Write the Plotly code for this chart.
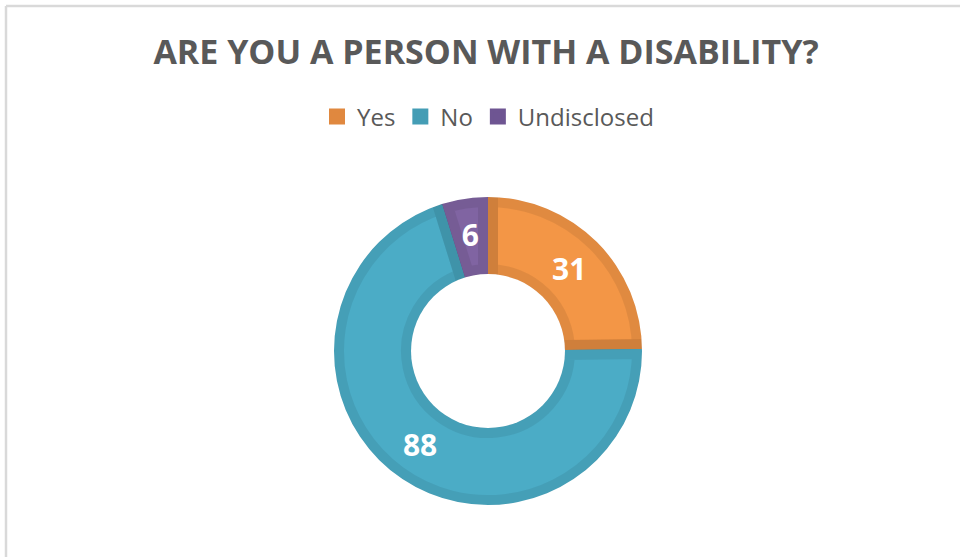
import plotly.graph_objects as go

# Survey answers
labels = ["Yes", "No", "Undisclosed"]
counts = [31, 88, 6]

fill_colors = ["#F39646", "#4BACC6", "#8064A2"]
edge_colors = ["#E0883F", "#449DB5", "#6E5592"]

W, H = 960, 557
CX, CY = 488, 351          # ring centre in page pixels (from top-left)
R_OUT, R_IN = 154, 77      # ring radii in pixels
EDGE = 20                  # stroke width; half of it falls inside each slice
SHADE = "rgba(0,0,0,0.075)"
R_SMALL_TEXT = 136         # text ring used to centre the narrow slice's label

label_font = dict(family="Open Sans", size=30, color="white", weight="bold")


def domain_for(radius):
    cy_up = H - CY
    return dict(
        x=[(CX - radius) / W, (CX + radius) / W],
        y=[(cy_up - radius) / H, (cy_up + radius) / H],
    )


total = sum(counts)
wide = [c / total > 0.1 for c in counts]

fig = go.Figure()

# Base ring in the darker tones; it also supplies the solid legend swatches
fig.add_trace(go.Pie(
    labels=labels,
    values=counts,
    sort=False,
    direction="clockwise",
    rotation=0,
    hole=R_IN / R_OUT,
    domain=domain_for(R_OUT),
    marker=dict(colors=edge_colors, line=dict(color=edge_colors, width=4)),
    textinfo="none",
    hoverinfo="skip",
    showlegend=True,
))

# Donut slices; a translucent dark stroke shades each slice's rim
fig.add_trace(go.Pie(
    labels=labels,
    values=counts,
    sort=False,
    direction="clockwise",
    rotation=0,
    hole=R_IN / R_OUT,
    domain=domain_for(R_OUT),
    marker=dict(colors=fill_colors, line=dict(color=SHADE, width=EDGE)),
    texttemplate=["%{value}" if w else "" for w in wide],
    textposition="inside",
    insidetextorientation="horizontal",
    textfont=label_font,
    hoverinfo="label+value",
    showlegend=False,
))

# White band trimming the stroke outside the outer edge
R_TRIM = R_OUT + EDGE
fig.add_trace(go.Pie(
    labels=["outer"],
    values=[1],
    hole=R_OUT / R_TRIM,
    domain=domain_for(R_TRIM),
    marker=dict(colors=["white"], line=dict(width=0)),
    textinfo="none",
    hoverinfo="skip",
    showlegend=False,
))

# White disc trimming the stroke inside the hole
fig.add_trace(go.Pie(
    labels=["inner"],
    values=[1],
    hole=0,
    domain=domain_for(R_IN),
    marker=dict(colors=["white"], line=dict(width=0)),
    textinfo="none",
    hoverinfo="skip",
    showlegend=False,
))

# Label for the narrow slice, laid out on a slightly smaller transparent ring
fig.add_trace(go.Pie(
    labels=labels,
    values=counts,
    sort=False,
    direction="clockwise",
    rotation=0,
    hole=0.5,
    domain=domain_for(R_SMALL_TEXT),
    marker=dict(colors=["rgba(0,0,0,0)"] * len(counts), line=dict(width=0)),
    texttemplate=["" if w else "%{value}" for w in wide],
    textposition="inside",
    insidetextorientation="horizontal",
    textfont=label_font,
    hoverinfo="skip",
    showlegend=False,
))

frame = "#D9D9D9"
fig.update_layout(
    width=W,
    height=H,
    margin=dict(l=0, r=0, t=0, b=0),
    paper_bgcolor="white",
    plot_bgcolor="white",
    uniformtext=dict(minsize=30, mode="show"),
    title=dict(
        text="<b>ARE YOU A PERSON WITH A DISABILITY?</b>",
        x=486 / W,
        xanchor="center",
        y=1 - 52 / H,
        yanchor="middle",
        font=dict(family="Open Sans", size=34, color="#595959"),
    ),
    legend=dict(
        orientation="h",
        x=488 / W,
        xanchor="center",
        y=1 - 117 / H,
        yanchor="middle",
        font=dict(family="Open Sans", size=24, color="#595959"),
        itemwidth=30,
        traceorder="normal",
    ),
    shapes=[
        dict(type="line", xref="paper", yref="paper",
             x0=6 / W, x1=6 / W, y0=0, y1=1 - 6 / H,
             line=dict(color=frame, width=2.5)),
        dict(type="line", xref="paper", yref="paper",
             x0=6 / W, x1=1, y0=1 - 6 / H, y1=1 - 6 / H,
             line=dict(color=frame, width=2.5)),
    ],
)

fig.write_html("out.html")
